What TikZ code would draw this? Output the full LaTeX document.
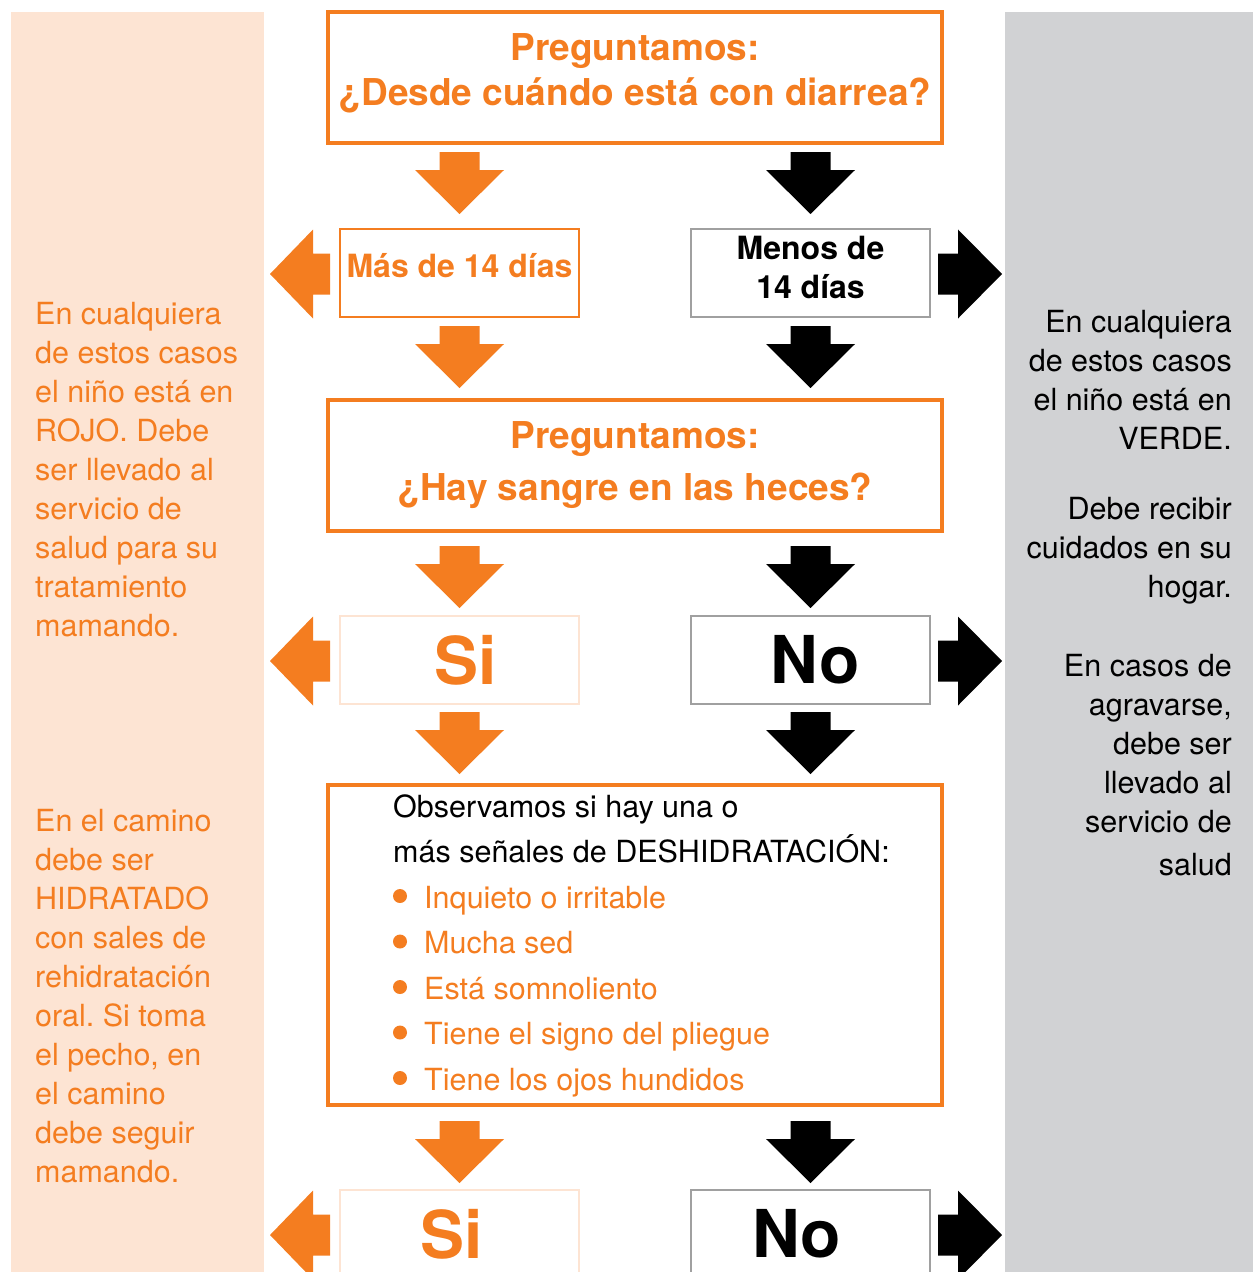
\documentclass[tikz,border=0pt]{standalone}
\usepackage{fontspec}
\setmainfont{TeX Gyre Heros}
\frenchspacing
\usepackage{tikz}
\usetikzlibrary{
  positioning,
  calc
}
\definecolor{uorange}{RGB}{244,125,32}
\definecolor{peach}{RGB}{253,228,211}
\definecolor{panelgray}{RGB}{209,210,212}
\definecolor{boxgray}{RGB}{160,160,160}

\tikzset{
  pics/dnarrow/.style={code={
    \fill[#1] (-20,0) -- (20,0) -- (20,18) -- (44.5,18) -- (0,62)
              -- (-44.5,18) -- (-20,18) -- cycle;}},
  pics/lfarrow/.style={code={
    \fill[#1] (0,-20.5) -- (0,20.5) -- (-17,20.5) -- (-17,44.5) -- (-60,0)
              -- (-17,-44.5) -- (-17,-20.5) -- cycle;}},
  pics/rtarrow/.style={code={
    \fill[#1] (0,-20.5) -- (0,20.5) -- (20,20.5) -- (20,44.5) -- (64,0)
              -- (20,-44.5) -- (20,-20.5) -- cycle;}},
}

\begin{document}
\begin{tikzpicture}[
  x=1pt, y=-1pt,
  qbox/.style={draw=uorange, line width=4pt, minimum width=614pt,
               minimum height=131pt, inner sep=0pt, align=center,
               text=uorange, font=\fontsize{37}{45}\selectfont\bfseries},
  sbox/.style={draw=uorange, line width=2pt, minimum width=239pt,
               minimum height=88pt, inner sep=0pt, align=center,
               text=uorange, font=\fontsize{32}{39}\selectfont\bfseries},
  nbox/.style={sbox, draw=boxgray, text=black},
  sibox/.style={sbox, draw=peach, font=\fontsize{66}{66}\selectfont\bfseries},
  nobox/.style={nbox, font=\fontsize{66}{66}\selectfont\bfseries},
  side/.style={font=\fontsize{30.5}{39}\selectfont, inner sep=0pt, align=left},
]
\clip (0,0) rectangle (1253,1272);

% side panels
\fill[peach] (11,12) rectangle (264,1272);
\fill[panelgray] (1005,12) rectangle (1253,1272);

% boxes
\node[qbox, text depth=15pt] (q1) at (635,77.5) {Preguntamos:\\¿Desde cuándo está con diarrea?};
\node[sbox, text depth=16pt] (mas) at (459.5,273) {Más de 14 días};
\node[nbox, text depth=12pt, right=110pt of mas] (menos) {Menos de\\14 días};
\node[qbox, below=253pt of q1] (q2) {Preguntamos:\\[7pt]¿Hay sangre en las heces?};
\node[sibox, below=297pt of mas] (si1) {\hspace*{13pt}Si};
\node[nobox, right=110pt of si1] (no1) {\hspace*{9pt}No};
\node[qbox, minimum height=320pt, below=250pt of q2] (obs) {};
\node[sibox, below=484pt of si1] (si2) {\hspace*{-15pt}Si};
\node[nobox, right=110pt of si2] (no2) {\hspace*{-27pt}No};

% signs of dehydration
\node[side, anchor=base west, font=\fontsize{30.5}{45.5}\selectfont]
  (signs) at (393,1090) {Observamos si hay una o\\
  más señales de DESHIDRATACIÓN:\\
  \hspace*{31pt}\textcolor{uorange}{Inquieto o irritable}\\
  \hspace*{31pt}\textcolor{uorange}{Mucha sed}\\
  \hspace*{31pt}\textcolor{uorange}{Está somnoliento}\\
  \hspace*{31pt}\textcolor{uorange}{Tiene el signo del pliegue}\\
  \hspace*{31pt}\textcolor{uorange}{Tiene los ojos hundidos}};
\foreach \k in {0,...,4}
  \fill[uorange] ($(signs.base west)+(7,-194+45.5*\k)$) circle (7pt);

% down arrows
\pic at ($(q1.south -| mas)+(0,7)$) {dnarrow=uorange};
\pic at ($(q1.south -| menos)+(0,7)$) {dnarrow=black};
\pic at ($(mas.south)+(0,8)$) {dnarrow=uorange};
\pic at ($(menos.south)+(0,8)$) {dnarrow=black};
\pic at ($(q2.south -| si1)+(0,13)$) {dnarrow=uorange};
\pic at ($(q2.south -| no1)+(0,13)$) {dnarrow=black};
\pic at ($(si1.south)+(0,7)$) {dnarrow=uorange};
\pic at ($(no1.south)+(0,7)$) {dnarrow=black};
\pic at ($(obs.south -| si2)+(0,14)$) {dnarrow=uorange};
\pic at ($(obs.south -| no2)+(0,14)$) {dnarrow=black};

% side arrows
\foreach \l/\r in {mas/menos, si1/no1, si2/no2} {
  \pic at ($(\l.west)+(-9,1)$) {lfarrow=uorange};
  \pic at ($(\r.east)+(7,1)$) {rtarrow=black};
}

% side texts
\node[side, text=uorange, anchor=base west] (rojo) at (35,636)
  {En cualquiera\\de estos casos\\el niño está en\\ROJO. Debe\\ser llevado al\\servicio de\\salud para su\\tratamiento\\mamando.};
\node[side, text=uorange, anchor=base west] (camino) at (35,1182)
  {En el camino\\debe ser\\HIDRATADO\\con sales de\\rehidratación\\oral. Si toma\\el pecho, en\\el camino\\debe seguir\\mamando.};
\node[side, align=right, anchor=base east] (verde) at (1232,875)
  {En cualquiera\\de estos casos\\el niño está en\\VERDE.\\[31pt]Debe recibir\\cuidados en su\\hogar.\\[40pt]En casos de\\agravarse,\\debe ser\\llevado al\\servicio de\\[4pt]salud};

\end{tikzpicture}
\end{document}
